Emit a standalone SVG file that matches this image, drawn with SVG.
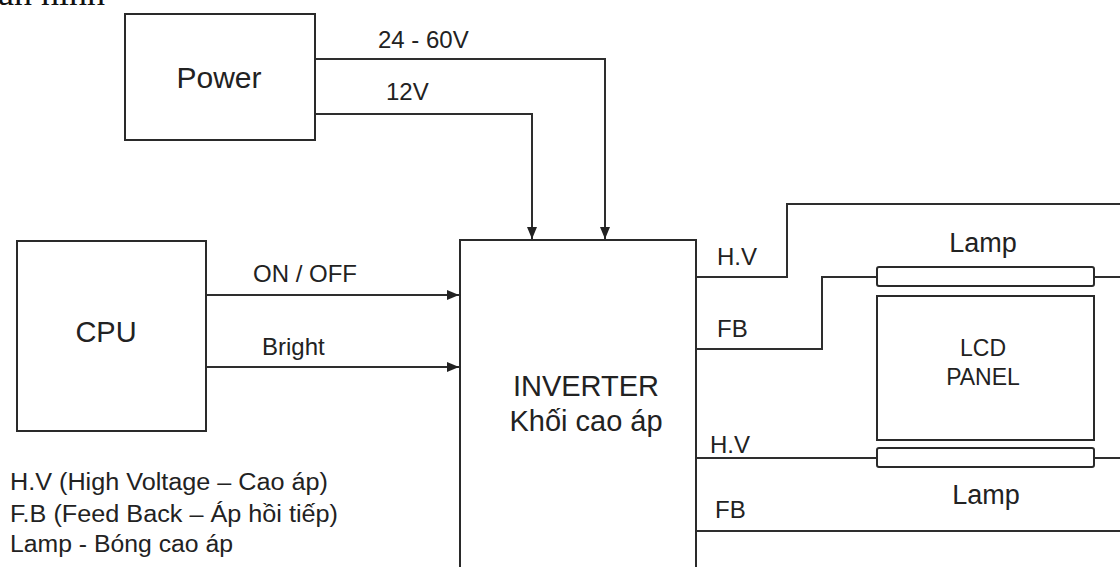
<svg xmlns="http://www.w3.org/2000/svg" width="1120" height="567" viewBox="0 0 1120 567">
<style>
.box{fill:#fff;stroke:#2a2a2a;stroke-width:2}
.wire{fill:none;stroke:#2e2e2e;stroke-width:2}
.t{font-family:"Liberation Sans",Arial,sans-serif;fill:#222}
.lbl{font-size:24px}
.big{font-size:29px;text-anchor:middle}
</style>
<defs>
<marker id="arr" markerUnits="userSpaceOnUse" markerWidth="12" markerHeight="10" refX="12" refY="5" orient="auto">
<path d="M0,0 L12,5 L0,10 z" fill="#222"/>
</marker>
</defs>
<rect width="1120" height="567" fill="#fff"/>
<text x="-2" y="5" font-family="'Liberation Serif',serif" font-size="36" fill="#111">an hình</text>
<g id="connectors">
<path class="wire" d="M315,59 H605 V239" marker-end="url(#arr)"/>
<path class="wire" d="M315,114 H532 V239" marker-end="url(#arr)"/>
<path class="wire" d="M206,295 H459" marker-end="url(#arr)"/>
<path class="wire" d="M206,367 H459" marker-end="url(#arr)"/>
<path class="wire" d="M696,277 H787 V204 H1120"/>
<path class="wire" d="M696,349 H822 V277 H877"/>
<path class="wire" d="M1094,277 H1120"/>
<path class="wire" d="M696,458 H877"/>
<path class="wire" d="M1094,458 H1120"/>
<path class="wire" d="M696,531 H1120"/>
<text class="t lbl" x="378" y="48">24 - 60V</text>
<text class="t lbl" x="386" y="100">12V</text>
<text class="t lbl" x="253" y="282">ON / OFF</text>
<text class="t lbl" x="262" y="355">Bright</text>
<text class="t lbl" x="717" y="265">H.V</text>
<text class="t lbl" x="717" y="337">FB</text>
<text class="t lbl" x="710" y="453">H.V</text>
<text class="t lbl" x="715" y="518">FB</text>
</g>
<g id="power">
<rect class="box" x="125" y="14" width="190" height="126"/>
<text class="t" x="219" y="88" font-size="30" text-anchor="middle">Power</text>
</g>
<g id="cpu">
<rect class="box" x="17" y="241" width="189" height="190"/>
<text class="t big" x="106" y="342">CPU</text>
</g>
<g id="inverter">
<rect class="box" x="460" y="240" width="236" height="340"/>
<text class="t big" x="586" y="396">INVERTER</text>
<text class="t big" x="586" y="431">Khối cao áp</text>
</g>
<g id="lamp-top">
<rect class="box" x="877" y="267" width="217" height="19" rx="2"/>
<text class="t" x="983" y="252" font-size="27" text-anchor="middle">Lamp</text>
</g>
<g id="lcd-panel">
<rect class="box" x="877" y="296" width="217" height="144"/>
<text class="t" x="983" y="356" font-size="23" text-anchor="middle">LCD</text>
<text class="t" x="983" y="385" font-size="23" text-anchor="middle">PANEL</text>
</g>
<g id="lamp-bottom">
<rect class="box" x="877" y="448" width="217" height="19" rx="2"/>
<text class="t" x="986" y="504" font-size="27" text-anchor="middle">Lamp</text>
</g>
<g id="legend">
<text class="t" x="10" y="490" font-size="23" textLength="318" lengthAdjust="spacingAndGlyphs">H.V (High Voltage – Cao áp)</text>
<text class="t" x="10" y="522" font-size="23" textLength="328" lengthAdjust="spacingAndGlyphs">F.B (Feed Back – Áp hồi tiếp)</text>
<text class="t" x="10" y="552" font-size="23" textLength="223" lengthAdjust="spacingAndGlyphs">Lamp - Bóng cao áp</text>
</g>
</svg>
